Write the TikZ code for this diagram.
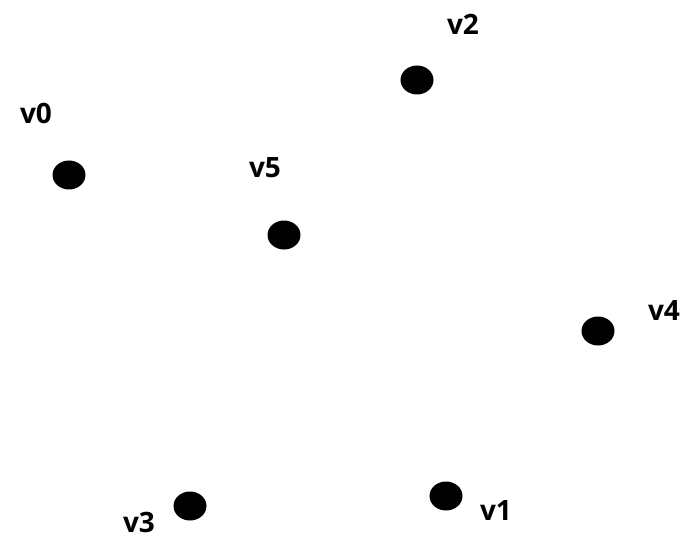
\documentclass[tikz,border=0pt]{standalone}
\usepackage{fontspec}
\setmainfont{Open Sans}
\usetikzlibrary{positioning,shapes.geometric}
\tikzset{
  dot/.style={ellipse, fill=black, minimum width=33pt, minimum height=29pt, inner sep=0pt},
  vlabel/.style={font=\fontsize{28}{32}\selectfont\bfseries, inner sep=0pt}
}

\begin{document}
\begin{tikzpicture}[x=1pt, y=-1pt]
    \useasboundingbox (0,0) rectangle (684,537);
    \foreach \name/\x/\y/\lx/\ly in {v0/69/175/36/113, v2/417/80/463/24, v5/284/235/265/168,
                                    v4/598/331/664/311, v3/190/506/139/522, v1/446/496/496/511} {
      \node[dot] (\name) at (\x,\y) {};
      \node[vlabel] (\name-lbl) at (\lx,\ly) {\name};
    }
  \end{tikzpicture}
\end{document}
